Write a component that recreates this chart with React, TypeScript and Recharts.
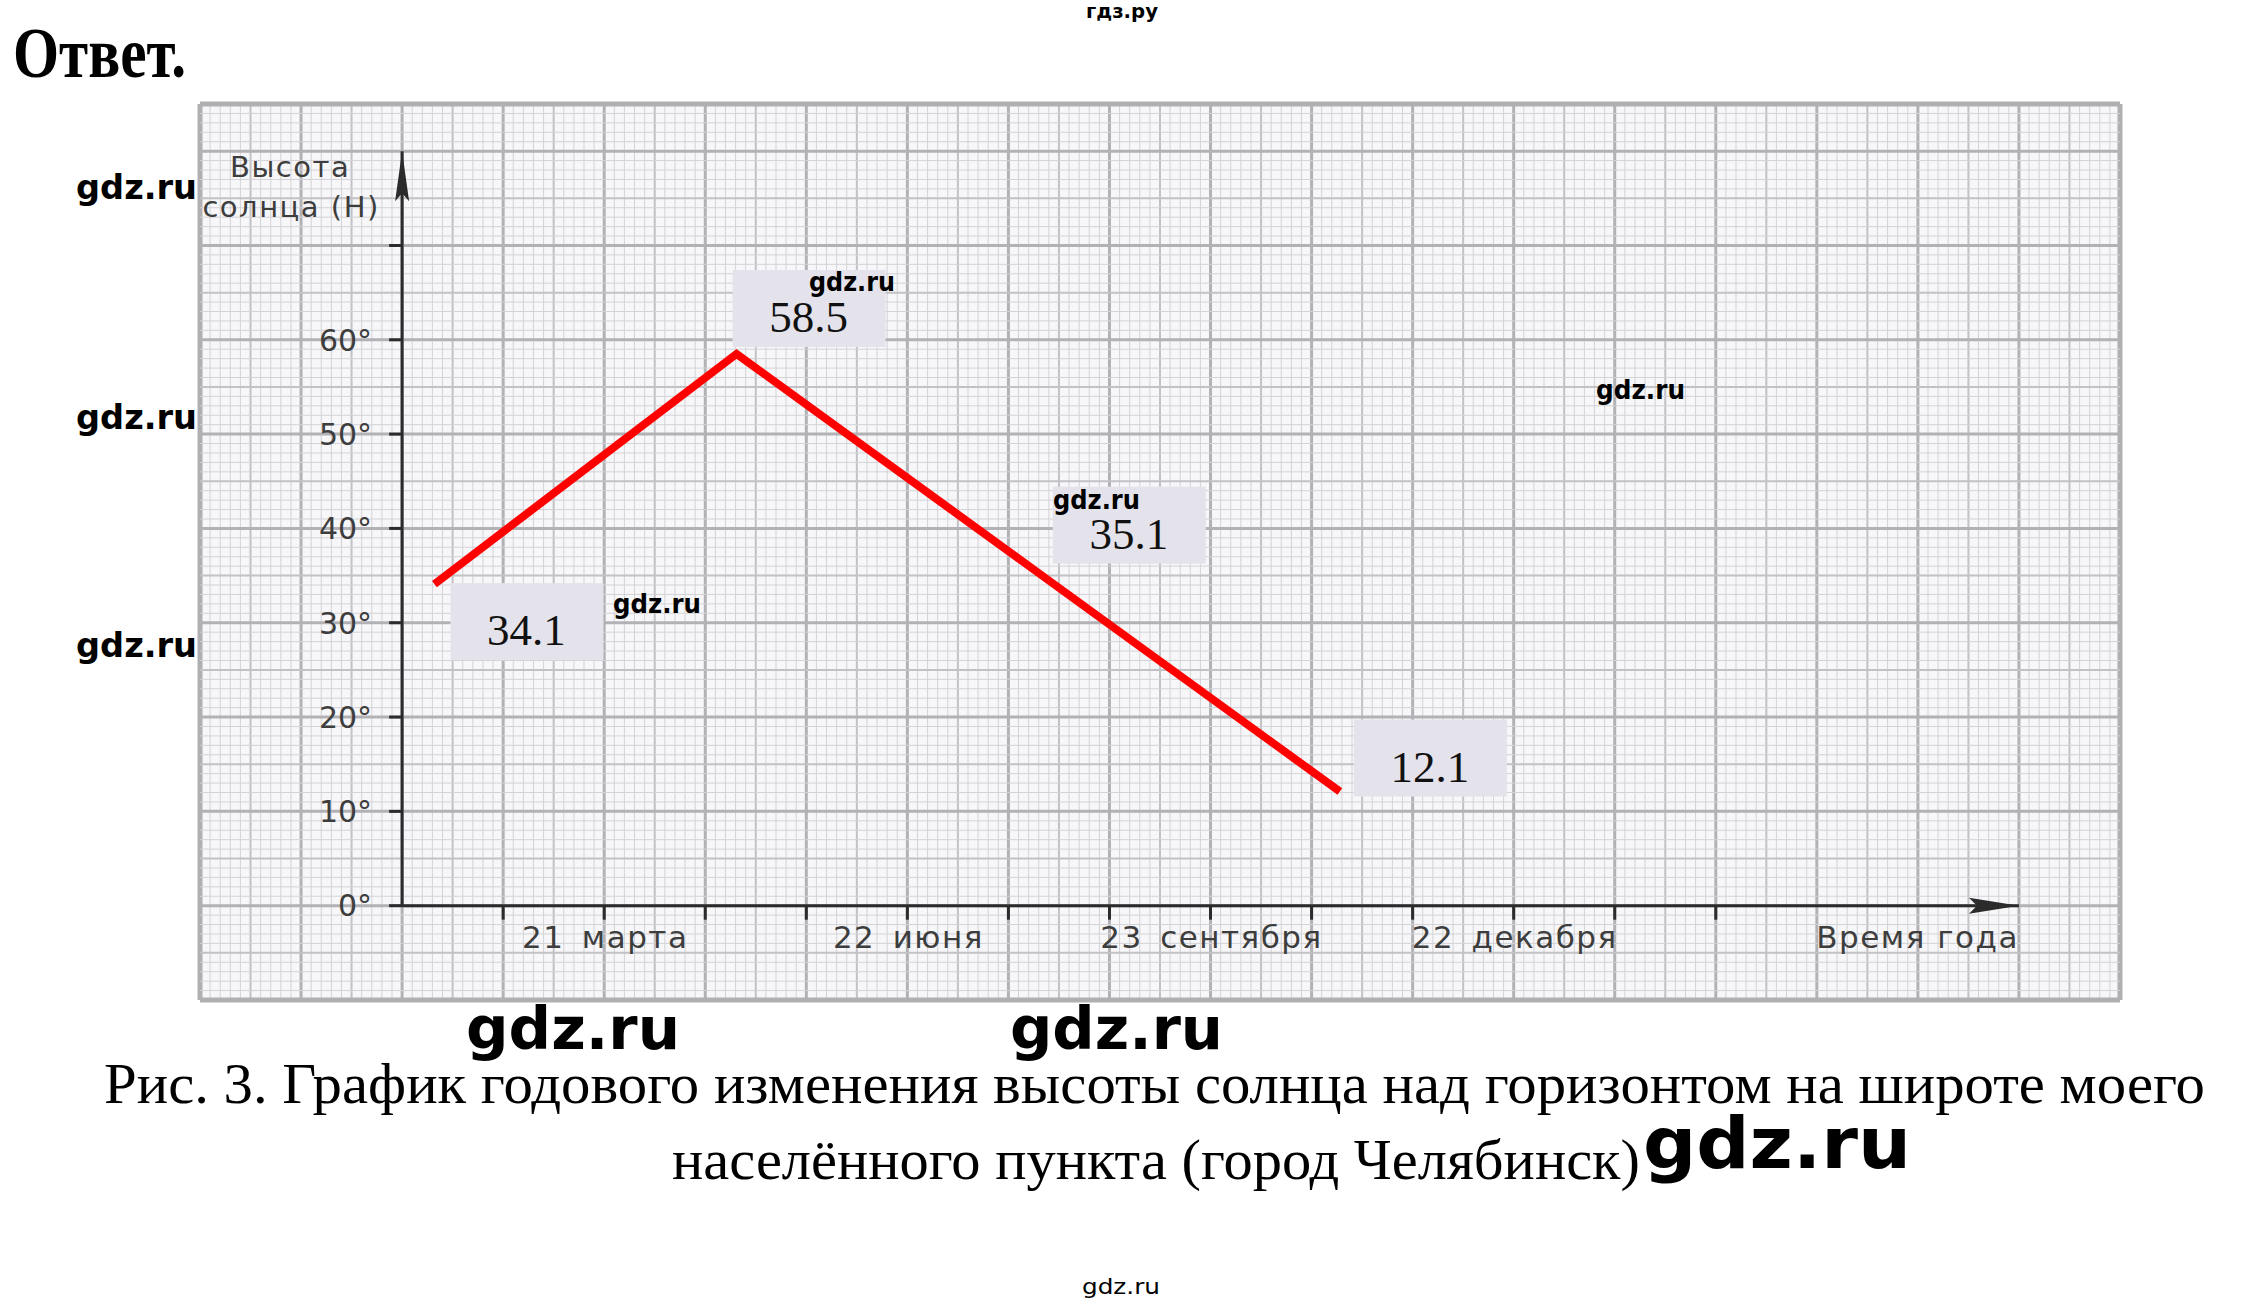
import React from "react"
import { LineChart, Line, XAxis, YAxis, ReferenceLine, ReferenceDot, ReferenceArea } from "recharts"

// points: x in cells from the vertical axis, height in degrees
const pointX = [0.32, 3.31, 6.32, 9.28]
const sunHeight = [34.1, 58.5, 35.1, 12.1]

const yTickValues = [0, 10, 20, 30, 40, 50, 60, 70]
const yTickLabels = ["0°", "10°", "20°", "30°", "40°", "50°", "60°", ""]
const xTickValues = [1, 2, 3, 4, 5, 6, 7, 8, 9, 10, 11, 12, 13]
const dateTicks = [2, 5, 8, 11]
const dateLabels = ["21 марта", "22 июня", "23 сентября", "22 декабря"]

const xDomain = [-2, 17]
const yDomain = [-10, 85]
const xArrowAt = 16
const yArrowAt = 80

// where each value box sits relative to its point (px)
const boxOffsets = [
  { dx: 16, dy: -1 },
  { dx: -4, dy: -84 },
  { dx: 12, dy: -88 },
  { dx: 14, dy: -72 },
]

const AXIS = "#2b2b2b"
const TEXT = "#3d3d3d"
const AXIS_FONT = '"DejaVu Sans", sans-serif'
const SERIF = '"Liberation Serif", "Times New Roman", serif'
const MARK_FONT = '"DejaVu Sans", sans-serif'

const gridStyle: Record<string, { stroke: string; width: number }> = {
  minor: { stroke: "#d3d3d7", width: 1 },
  mid: { stroke: "#c2c2c6", width: 2 },
  major: { stroke: "#b2b2b6", width: 3 },
  edge: { stroke: "#b0b0b3", width: 5 },
}

// graph paper: 10 small divisions per big cell, a heavier line at the half
function paperLines(from: number, to: number, div: number) {
  const lines: { v: number; kind: string }[] = []
  for (let i = from * div; i <= to * div; i++) {
    let kind = "minor"
    if (i === from * div || i === to * div) kind = "edge"
    else if (i % div === 0) kind = "major"
    else if (i % (div / 2) === 0) kind = "mid"
    lines.push({ v: i / div, kind })
  }
  const order = ["minor", "mid", "major", "edge"]
  return lines.sort((a, b) => order.indexOf(a.kind) - order.indexOf(b.kind))
}

const paperX = paperLines(xDomain[0], xDomain[1], 10)
const paperY = paperLines(yDomain[0] / 10, yDomain[1] / 10, 10).map((l) => ({ ...l, v: Math.round(l.v * 10) }))

const data = pointX.map((x, i) => ({ x, h: sunHeight[i] }))

const marks = [
  { text: "gdz.ru", x: 76, y: 199, size: 33, w: 121 },
  { text: "gdz.ru", x: 76, y: 429, size: 33, w: 121 },
  { text: "gdz.ru", x: 76, y: 657, size: 33, w: 121 },
  { text: "gdz.ru", x: 809, y: 291, size: 26, w: 86 },
  { text: "gdz.ru", x: 1596, y: 399, size: 26, w: 89 },
  { text: "gdz.ru", x: 1053, y: 509, size: 26, w: 87 },
  { text: "gdz.ru", x: 613, y: 613, size: 26, w: 88 },
  { text: "gdz.ru", x: 466, y: 1049, size: 58, w: 214 },
  { text: "gdz.ru", x: 1010, y: 1049, size: 58, w: 213 },
  { text: "gdz.ru", x: 1643, y: 1168, size: 72, w: 268 },
]

function YTick({ cx, cy, label }: any) {
  return (
    <g>
      <line x1={cx - 13} y1={cy} x2={cx} y2={cy} stroke={AXIS} strokeWidth={3} />
      {label ? (
        <text x={cx - 30} y={cy} dy="0.36em" textAnchor="end" fontFamily={AXIS_FONT} fontSize={30} fill={TEXT}>
          {label}
        </text>
      ) : null}
    </g>
  )
}

function XTick({ cx, cy, label }: any) {
  return (
    <g>
      <line x1={cx} y1={cy} x2={cx} y2={cy + 14} stroke={AXIS} strokeWidth={3} />
      {label ? (
        <text
          x={cx + 1}
          y={cy + 42}
          textAnchor="middle"
          fontFamily={AXIS_FONT}
          fontSize={31}
          letterSpacing={1.5}
          wordSpacing={6}
          fill={TEXT}
        >
          {label}
        </text>
      ) : null}
    </g>
  )
}

function UpArrow({ cx, cy }: any) {
  return (
    <g>
      <polygon points={`${cx},${cy} ${cx + 7},${cy + 50} ${cx},${cy + 42} ${cx - 7},${cy + 50}`} fill={AXIS} />
      <text x={cx - 112} y={cy + 26} textAnchor="middle" fontFamily={AXIS_FONT} fontSize={29} letterSpacing={1.5} fill={TEXT}>
        Высота
      </text>
      <text x={cx - 111} y={cy + 66} textAnchor="middle" fontFamily={AXIS_FONT} fontSize={29} letterSpacing={1.5} fill={TEXT}>
        солнца (Н)
      </text>
    </g>
  )
}

function RightArrow({ cx, cy }: any) {
  return (
    <g>
      <polygon points={`${cx},${cy} ${cx - 50},${cy - 8} ${cx - 42},${cy} ${cx - 50},${cy + 8}`} fill={AXIS} />
      <text x={cx} y={cy + 42} textAnchor="end" fontFamily={AXIS_FONT} fontSize={31} letterSpacing={1.5} fill={TEXT}>
        Время года
      </text>
    </g>
  )
}

function ValueBox({ cx, cy, value, dx, dy }: any) {
  const x = cx + dx
  const y = cy + dy
  return (
    <g>
      <rect x={x} y={y} width={153} height={77} fill="#e4e2ea" />
      <text x={x + 76} y={y + 62} textAnchor="middle" fontFamily={SERIF} fontSize={45} fill="#111">
        {String(value)}
      </text>
    </g>
  )
}

export default function App() {
  return (
    <div style={{ position: "absolute", left: 0, top: 0, width: 2241, height: 1306, background: "#fff", overflow: "hidden" }}>
      <div style={{ position: "absolute", left: 0, top: 0 }}>
        <LineChart width={2241} height={1306} data={data} margin={{ top: 104, right: 121, bottom: 306, left: 200 }}>
          <XAxis type="number" dataKey="x" domain={xDomain} allowDataOverflow hide />
          <YAxis type="number" domain={yDomain} allowDataOverflow hide />

          <ReferenceArea
            x1={xDomain[0]}
            x2={xDomain[1]}
            y1={yDomain[0]}
            y2={yDomain[1]}
            fill="#f7f7f9"
            fillOpacity={1}
            stroke="none"
            zIndex={-200}
          />
          {paperX.map((l, i) => (
            <ReferenceLine
              key={`px-${i}`}
              x={l.v}
              stroke={gridStyle[l.kind].stroke}
              strokeWidth={gridStyle[l.kind].width}
              zIndex={-100}
            />
          ))}
          {paperY.map((l, i) => (
            <ReferenceLine
              key={`py-${i}`}
              y={l.v}
              stroke={gridStyle[l.kind].stroke}
              strokeWidth={gridStyle[l.kind].width}
              zIndex={-100}
            />
          ))}

          <ReferenceLine
            segment={[{ x: 0, y: 0 }, { x: 0, y: yArrowAt }]}
            stroke={AXIS}
            strokeWidth={3}
            zIndex={500}
          />
          <ReferenceLine
            segment={[{ x: 0, y: 0 }, { x: xArrowAt, y: 0 }]}
            stroke={AXIS}
            strokeWidth={3}
            zIndex={500}
          />
          {yTickValues.map((v, i) => (
            <ReferenceDot
              key={`yt-${v}`}
              x={0}
              y={v}
              zIndex={500}
              shape={(p: any) => <YTick cx={p.cx} cy={p.cy} label={yTickLabels[i]} />}
            />
          ))}
          {xTickValues.map((v) => (
            <ReferenceDot
              key={`xt-${v}`}
              x={v}
              y={0}
              zIndex={500}
              shape={(p: any) => <XTick cx={p.cx} cy={p.cy} label={dateLabels[dateTicks.indexOf(v)]} />}
            />
          ))}
          <ReferenceDot x={0} y={yArrowAt} zIndex={500} shape={(p: any) => <UpArrow cx={p.cx} cy={p.cy} />} />
          <ReferenceDot x={xArrowAt} y={0} zIndex={500} shape={(p: any) => <RightArrow cx={p.cx} cy={p.cy} />} />

          <Line
            type="linear"
            dataKey="h"
            stroke="#ff0000"
            strokeWidth={8}
            dot={false}
            activeDot={false}
            isAnimationActive={false}
            zIndex={600}
          />

          {sunHeight.map((v, i) => (
            <ReferenceDot
              key={`box-${i}`}
              x={pointX[i]}
              y={v}
              zIndex={2000}
              shape={(p: any) => (
                <ValueBox cx={p.cx} cy={p.cy} value={v} dx={boxOffsets[i].dx} dy={boxOffsets[i].dy} />
              )}
            />
          ))}
        </LineChart>
      </div>

      <svg width={2241} height={1306} style={{ position: "absolute", left: 0, top: 0, pointerEvents: "none" }}>
        <text x={13} y={77} fontFamily={SERIF} fontWeight="bold" fontSize={72} textLength={173} lengthAdjust="spacingAndGlyphs" fill="#000">
          Ответ.
        </text>
        <text x={1086} y={18} fontFamily={MARK_FONT} fontWeight="bold" fontSize={19} textLength={72} lengthAdjust="spacingAndGlyphs" fill="#000">
          гдз.ру
        </text>
        <text x={104} y={1103} fontFamily={SERIF} fontSize={58} textLength={2101} lengthAdjust="spacingAndGlyphs" fill="#000">
          Рис. 3. График годового изменения высоты солнца над горизонтом на широте моего
        </text>
        <text x={672} y={1179} fontFamily={SERIF} fontSize={58} textLength={968} lengthAdjust="spacingAndGlyphs" fill="#000">
          населённого пункта (город Челябинск)
        </text>
        {marks.map((m, i) => (
          <text
            key={`m-${i}`}
            x={m.x}
            y={m.y}
            fontFamily={MARK_FONT}
            fontWeight="bold"
            fontSize={m.size}
            textLength={m.w}
            lengthAdjust="spacingAndGlyphs"
            fill="#000"
          >
            {m.text}
          </text>
        ))}
        <text x={1082} y={1294} fontFamily={MARK_FONT} fontSize={22} textLength={78} lengthAdjust="spacingAndGlyphs" fill="#000">
          gdz.ru
        </text>
      </svg>
    </div>
  )
}
